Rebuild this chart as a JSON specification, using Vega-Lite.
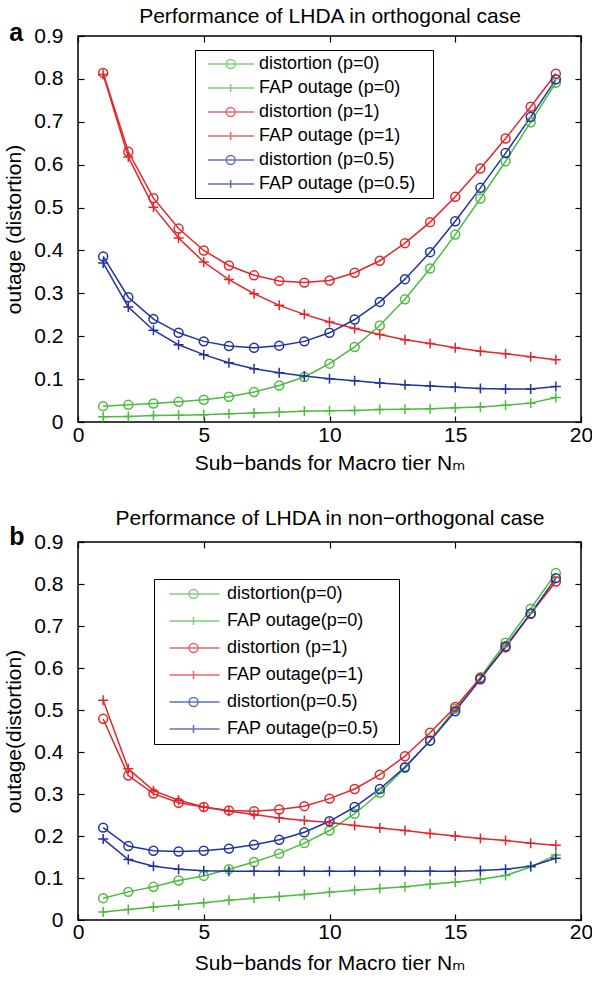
{
  "$schema": "https://vega.github.io/schema/vega-lite/v6.json",
  "padding": {"left": 2, "top": 4, "right": 0, "bottom": 0},
  "config": {
    "font": "Liberation Sans",
    "view": {"stroke": "black", "strokeWidth": 1.5},
    "axis": {
      "grid": false, "domain": false, "tickColor": "black", "tickSize": -6, "tickWidth": 1.2, "minExtent": 0, "labelFlush": false,
      "labelFont": "Liberation Sans", "labelFontSize": 21, "labelColor": "black",
      "titleFont": "Liberation Sans, DejaVu Sans", "titleFontSize": 21, "titleFontWeight": "normal", "titleColor": "black"
    },
    "legend": {
      "orient": "none", "strokeColor": "black", "fillColor": "white",
      "labelFont": "Liberation Sans", "labelFontSize": 18, "labelColor": "black", "labelLimit": 400,
      "symbolSize": 100, "symbolStrokeWidth": 1.5, "title": null
    },
    "title": {"font": "Liberation Sans", "fontSize": 25, "fontWeight": "bold", "color": "black", "anchor": "start", "frame": "bounds"}
  },
  "datasets": {
    "a": [
      {"series": "distortion (p=0)", "x": 1, "y": 0.037}, {"series": "distortion (p=0)", "x": 2, "y": 0.040}, {"series": "distortion (p=0)", "x": 3, "y": 0.043}, {"series": "distortion (p=0)", "x": 4, "y": 0.047}, {"series": "distortion (p=0)", "x": 5, "y": 0.052}, {"series": "distortion (p=0)", "x": 6, "y": 0.059}, {"series": "distortion (p=0)", "x": 7, "y": 0.070}, {"series": "distortion (p=0)", "x": 8, "y": 0.085}, {"series": "distortion (p=0)", "x": 9, "y": 0.105}, {"series": "distortion (p=0)", "x": 10, "y": 0.136}, {"series": "distortion (p=0)", "x": 11, "y": 0.175}, {"series": "distortion (p=0)", "x": 12, "y": 0.225}, {"series": "distortion (p=0)", "x": 13, "y": 0.286}, {"series": "distortion (p=0)", "x": 14, "y": 0.358}, {"series": "distortion (p=0)", "x": 15, "y": 0.437}, {"series": "distortion (p=0)", "x": 16, "y": 0.521}, {"series": "distortion (p=0)", "x": 17, "y": 0.608}, {"series": "distortion (p=0)", "x": 18, "y": 0.699}, {"series": "distortion (p=0)", "x": 19, "y": 0.791},
      {"series": "FAP outage (p=0)", "x": 1, "y": 0.012}, {"series": "FAP outage (p=0)", "x": 2, "y": 0.013}, {"series": "FAP outage (p=0)", "x": 3, "y": 0.015}, {"series": "FAP outage (p=0)", "x": 4, "y": 0.016}, {"series": "FAP outage (p=0)", "x": 5, "y": 0.017}, {"series": "FAP outage (p=0)", "x": 6, "y": 0.019}, {"series": "FAP outage (p=0)", "x": 7, "y": 0.021}, {"series": "FAP outage (p=0)", "x": 8, "y": 0.023}, {"series": "FAP outage (p=0)", "x": 9, "y": 0.025}, {"series": "FAP outage (p=0)", "x": 10, "y": 0.026}, {"series": "FAP outage (p=0)", "x": 11, "y": 0.027}, {"series": "FAP outage (p=0)", "x": 12, "y": 0.029}, {"series": "FAP outage (p=0)", "x": 13, "y": 0.030}, {"series": "FAP outage (p=0)", "x": 14, "y": 0.031}, {"series": "FAP outage (p=0)", "x": 15, "y": 0.033}, {"series": "FAP outage (p=0)", "x": 16, "y": 0.035}, {"series": "FAP outage (p=0)", "x": 17, "y": 0.039}, {"series": "FAP outage (p=0)", "x": 18, "y": 0.044}, {"series": "FAP outage (p=0)", "x": 19, "y": 0.057},
      {"series": "distortion (p=1)", "x": 1, "y": 0.814}, {"series": "distortion (p=1)", "x": 2, "y": 0.630}, {"series": "distortion (p=1)", "x": 3, "y": 0.522}, {"series": "distortion (p=1)", "x": 4, "y": 0.451}, {"series": "distortion (p=1)", "x": 5, "y": 0.400}, {"series": "distortion (p=1)", "x": 6, "y": 0.365}, {"series": "distortion (p=1)", "x": 7, "y": 0.342}, {"series": "distortion (p=1)", "x": 8, "y": 0.329}, {"series": "distortion (p=1)", "x": 9, "y": 0.325}, {"series": "distortion (p=1)", "x": 10, "y": 0.330}, {"series": "distortion (p=1)", "x": 11, "y": 0.348}, {"series": "distortion (p=1)", "x": 12, "y": 0.376}, {"series": "distortion (p=1)", "x": 13, "y": 0.417}, {"series": "distortion (p=1)", "x": 14, "y": 0.466}, {"series": "distortion (p=1)", "x": 15, "y": 0.525}, {"series": "distortion (p=1)", "x": 16, "y": 0.591}, {"series": "distortion (p=1)", "x": 17, "y": 0.661}, {"series": "distortion (p=1)", "x": 18, "y": 0.735}, {"series": "distortion (p=1)", "x": 19, "y": 0.812},
      {"series": "FAP outage (p=1)", "x": 1, "y": 0.810}, {"series": "FAP outage (p=1)", "x": 2, "y": 0.618}, {"series": "FAP outage (p=1)", "x": 3, "y": 0.501}, {"series": "FAP outage (p=1)", "x": 4, "y": 0.429}, {"series": "FAP outage (p=1)", "x": 5, "y": 0.373}, {"series": "FAP outage (p=1)", "x": 6, "y": 0.332}, {"series": "FAP outage (p=1)", "x": 7, "y": 0.299}, {"series": "FAP outage (p=1)", "x": 8, "y": 0.272}, {"series": "FAP outage (p=1)", "x": 9, "y": 0.251}, {"series": "FAP outage (p=1)", "x": 10, "y": 0.233}, {"series": "FAP outage (p=1)", "x": 11, "y": 0.218}, {"series": "FAP outage (p=1)", "x": 12, "y": 0.204}, {"series": "FAP outage (p=1)", "x": 13, "y": 0.192}, {"series": "FAP outage (p=1)", "x": 14, "y": 0.183}, {"series": "FAP outage (p=1)", "x": 15, "y": 0.173}, {"series": "FAP outage (p=1)", "x": 16, "y": 0.165}, {"series": "FAP outage (p=1)", "x": 17, "y": 0.159}, {"series": "FAP outage (p=1)", "x": 18, "y": 0.152}, {"series": "FAP outage (p=1)", "x": 19, "y": 0.145},
      {"series": "distortion (p=0.5)", "x": 1, "y": 0.386}, {"series": "distortion (p=0.5)", "x": 2, "y": 0.291}, {"series": "distortion (p=0.5)", "x": 3, "y": 0.240}, {"series": "distortion (p=0.5)", "x": 4, "y": 0.208}, {"series": "distortion (p=0.5)", "x": 5, "y": 0.188}, {"series": "distortion (p=0.5)", "x": 6, "y": 0.177}, {"series": "distortion (p=0.5)", "x": 7, "y": 0.173}, {"series": "distortion (p=0.5)", "x": 8, "y": 0.178}, {"series": "distortion (p=0.5)", "x": 9, "y": 0.188}, {"series": "distortion (p=0.5)", "x": 10, "y": 0.208}, {"series": "distortion (p=0.5)", "x": 11, "y": 0.239}, {"series": "distortion (p=0.5)", "x": 12, "y": 0.280}, {"series": "distortion (p=0.5)", "x": 13, "y": 0.333}, {"series": "distortion (p=0.5)", "x": 14, "y": 0.396}, {"series": "distortion (p=0.5)", "x": 15, "y": 0.468}, {"series": "distortion (p=0.5)", "x": 16, "y": 0.546}, {"series": "distortion (p=0.5)", "x": 17, "y": 0.627}, {"series": "distortion (p=0.5)", "x": 18, "y": 0.711}, {"series": "distortion (p=0.5)", "x": 19, "y": 0.799},
      {"series": "FAP outage (p=0.5)", "x": 1, "y": 0.371}, {"series": "FAP outage (p=0.5)", "x": 2, "y": 0.268}, {"series": "FAP outage (p=0.5)", "x": 3, "y": 0.214}, {"series": "FAP outage (p=0.5)", "x": 4, "y": 0.180}, {"series": "FAP outage (p=0.5)", "x": 5, "y": 0.157}, {"series": "FAP outage (p=0.5)", "x": 6, "y": 0.138}, {"series": "FAP outage (p=0.5)", "x": 7, "y": 0.124}, {"series": "FAP outage (p=0.5)", "x": 8, "y": 0.115}, {"series": "FAP outage (p=0.5)", "x": 9, "y": 0.107}, {"series": "FAP outage (p=0.5)", "x": 10, "y": 0.101}, {"series": "FAP outage (p=0.5)", "x": 11, "y": 0.096}, {"series": "FAP outage (p=0.5)", "x": 12, "y": 0.091}, {"series": "FAP outage (p=0.5)", "x": 13, "y": 0.087}, {"series": "FAP outage (p=0.5)", "x": 14, "y": 0.084}, {"series": "FAP outage (p=0.5)", "x": 15, "y": 0.081}, {"series": "FAP outage (p=0.5)", "x": 16, "y": 0.078}, {"series": "FAP outage (p=0.5)", "x": 17, "y": 0.077}, {"series": "FAP outage (p=0.5)", "x": 18, "y": 0.077}, {"series": "FAP outage (p=0.5)", "x": 19, "y": 0.083}
    ],
    "b": [
      {"series": "distortion(p=0)", "x": 1, "y": 0.052}, {"series": "distortion(p=0)", "x": 2, "y": 0.067}, {"series": "distortion(p=0)", "x": 3, "y": 0.079}, {"series": "distortion(p=0)", "x": 4, "y": 0.094}, {"series": "distortion(p=0)", "x": 5, "y": 0.105}, {"series": "distortion(p=0)", "x": 6, "y": 0.121}, {"series": "distortion(p=0)", "x": 7, "y": 0.138}, {"series": "distortion(p=0)", "x": 8, "y": 0.158}, {"series": "distortion(p=0)", "x": 9, "y": 0.183}, {"series": "distortion(p=0)", "x": 10, "y": 0.213}, {"series": "distortion(p=0)", "x": 11, "y": 0.253}, {"series": "distortion(p=0)", "x": 12, "y": 0.303}, {"series": "distortion(p=0)", "x": 13, "y": 0.362}, {"series": "distortion(p=0)", "x": 14, "y": 0.427}, {"series": "distortion(p=0)", "x": 15, "y": 0.503}, {"series": "distortion(p=0)", "x": 16, "y": 0.578}, {"series": "distortion(p=0)", "x": 17, "y": 0.660}, {"series": "distortion(p=0)", "x": 18, "y": 0.741}, {"series": "distortion(p=0)", "x": 19, "y": 0.826},
      {"series": "FAP outage(p=0)", "x": 1, "y": 0.019}, {"series": "FAP outage(p=0)", "x": 2, "y": 0.025}, {"series": "FAP outage(p=0)", "x": 3, "y": 0.031}, {"series": "FAP outage(p=0)", "x": 4, "y": 0.036}, {"series": "FAP outage(p=0)", "x": 5, "y": 0.041}, {"series": "FAP outage(p=0)", "x": 6, "y": 0.047}, {"series": "FAP outage(p=0)", "x": 7, "y": 0.052}, {"series": "FAP outage(p=0)", "x": 8, "y": 0.056}, {"series": "FAP outage(p=0)", "x": 9, "y": 0.061}, {"series": "FAP outage(p=0)", "x": 10, "y": 0.066}, {"series": "FAP outage(p=0)", "x": 11, "y": 0.071}, {"series": "FAP outage(p=0)", "x": 12, "y": 0.075}, {"series": "FAP outage(p=0)", "x": 13, "y": 0.079}, {"series": "FAP outage(p=0)", "x": 14, "y": 0.085}, {"series": "FAP outage(p=0)", "x": 15, "y": 0.090}, {"series": "FAP outage(p=0)", "x": 16, "y": 0.097}, {"series": "FAP outage(p=0)", "x": 17, "y": 0.106}, {"series": "FAP outage(p=0)", "x": 18, "y": 0.126}, {"series": "FAP outage(p=0)", "x": 19, "y": 0.155},
      {"series": "distortion (p=1)", "x": 1, "y": 0.479}, {"series": "distortion (p=1)", "x": 2, "y": 0.344}, {"series": "distortion (p=1)", "x": 3, "y": 0.301}, {"series": "distortion (p=1)", "x": 4, "y": 0.279}, {"series": "distortion (p=1)", "x": 5, "y": 0.269}, {"series": "distortion (p=1)", "x": 6, "y": 0.261}, {"series": "distortion (p=1)", "x": 7, "y": 0.259}, {"series": "distortion (p=1)", "x": 8, "y": 0.263}, {"series": "distortion (p=1)", "x": 9, "y": 0.271}, {"series": "distortion (p=1)", "x": 10, "y": 0.289}, {"series": "distortion (p=1)", "x": 11, "y": 0.312}, {"series": "distortion (p=1)", "x": 12, "y": 0.346}, {"series": "distortion (p=1)", "x": 13, "y": 0.390}, {"series": "distortion (p=1)", "x": 14, "y": 0.446}, {"series": "distortion (p=1)", "x": 15, "y": 0.507}, {"series": "distortion (p=1)", "x": 16, "y": 0.576}, {"series": "distortion (p=1)", "x": 17, "y": 0.649}, {"series": "distortion (p=1)", "x": 18, "y": 0.729}, {"series": "distortion (p=1)", "x": 19, "y": 0.806},
      {"series": "FAP outage(p=1)", "x": 1, "y": 0.523}, {"series": "FAP outage(p=1)", "x": 2, "y": 0.360}, {"series": "FAP outage(p=1)", "x": 3, "y": 0.308}, {"series": "FAP outage(p=1)", "x": 4, "y": 0.285}, {"series": "FAP outage(p=1)", "x": 5, "y": 0.269}, {"series": "FAP outage(p=1)", "x": 6, "y": 0.259}, {"series": "FAP outage(p=1)", "x": 7, "y": 0.251}, {"series": "FAP outage(p=1)", "x": 8, "y": 0.243}, {"series": "FAP outage(p=1)", "x": 9, "y": 0.237}, {"series": "FAP outage(p=1)", "x": 10, "y": 0.232}, {"series": "FAP outage(p=1)", "x": 11, "y": 0.225}, {"series": "FAP outage(p=1)", "x": 12, "y": 0.219}, {"series": "FAP outage(p=1)", "x": 13, "y": 0.213}, {"series": "FAP outage(p=1)", "x": 14, "y": 0.206}, {"series": "FAP outage(p=1)", "x": 15, "y": 0.200}, {"series": "FAP outage(p=1)", "x": 16, "y": 0.194}, {"series": "FAP outage(p=1)", "x": 17, "y": 0.189}, {"series": "FAP outage(p=1)", "x": 18, "y": 0.183}, {"series": "FAP outage(p=1)", "x": 19, "y": 0.178},
      {"series": "distortion(p=0.5)", "x": 1, "y": 0.220}, {"series": "distortion(p=0.5)", "x": 2, "y": 0.176}, {"series": "distortion(p=0.5)", "x": 3, "y": 0.165}, {"series": "distortion(p=0.5)", "x": 4, "y": 0.163}, {"series": "distortion(p=0.5)", "x": 5, "y": 0.165}, {"series": "distortion(p=0.5)", "x": 6, "y": 0.170}, {"series": "distortion(p=0.5)", "x": 7, "y": 0.179}, {"series": "distortion(p=0.5)", "x": 8, "y": 0.191}, {"series": "distortion(p=0.5)", "x": 9, "y": 0.209}, {"series": "distortion(p=0.5)", "x": 10, "y": 0.235}, {"series": "distortion(p=0.5)", "x": 11, "y": 0.269}, {"series": "distortion(p=0.5)", "x": 12, "y": 0.312}, {"series": "distortion(p=0.5)", "x": 13, "y": 0.364}, {"series": "distortion(p=0.5)", "x": 14, "y": 0.427}, {"series": "distortion(p=0.5)", "x": 15, "y": 0.497}, {"series": "distortion(p=0.5)", "x": 16, "y": 0.573}, {"series": "distortion(p=0.5)", "x": 17, "y": 0.652}, {"series": "distortion(p=0.5)", "x": 18, "y": 0.730}, {"series": "distortion(p=0.5)", "x": 19, "y": 0.814},
      {"series": "FAP outage(p=0.5)", "x": 1, "y": 0.193}, {"series": "FAP outage(p=0.5)", "x": 2, "y": 0.144}, {"series": "FAP outage(p=0.5)", "x": 3, "y": 0.128}, {"series": "FAP outage(p=0.5)", "x": 4, "y": 0.121}, {"series": "FAP outage(p=0.5)", "x": 5, "y": 0.117}, {"series": "FAP outage(p=0.5)", "x": 6, "y": 0.116}, {"series": "FAP outage(p=0.5)", "x": 7, "y": 0.116}, {"series": "FAP outage(p=0.5)", "x": 8, "y": 0.116}, {"series": "FAP outage(p=0.5)", "x": 9, "y": 0.116}, {"series": "FAP outage(p=0.5)", "x": 10, "y": 0.116}, {"series": "FAP outage(p=0.5)", "x": 11, "y": 0.116}, {"series": "FAP outage(p=0.5)", "x": 12, "y": 0.116}, {"series": "FAP outage(p=0.5)", "x": 13, "y": 0.116}, {"series": "FAP outage(p=0.5)", "x": 14, "y": 0.116}, {"series": "FAP outage(p=0.5)", "x": 15, "y": 0.116}, {"series": "FAP outage(p=0.5)", "x": 16, "y": 0.118}, {"series": "FAP outage(p=0.5)", "x": 17, "y": 0.121}, {"series": "FAP outage(p=0.5)", "x": 18, "y": 0.128}, {"series": "FAP outage(p=0.5)", "x": 19, "y": 0.147}
    ]
  },
  "vconcat": [
    {
      "width": 503, "height": 386,
      "title": {"text": "a", "offset": -41, "dx": 6},
      "data": {"name": "a"},
      "layer": [
        {
          "transform": [{"filter": "datum.x > 100"}],
          "mark": {"type": "point", "filled": false, "strokeWidth": 1.5},
          "encoding": {
            "x": {"field": "x", "type": "quantitative", "scale": {"domain": [0, 20], "nice": false}, "axis": {"orient": "top", "labels": false, "title": "Performance of LHDA in orthogonal case", "titlePadding": 9, "values": [0, 5, 10, 15, 20]}},
            "y": {"field": "y", "type": "quantitative", "scale": {"domain": [0, 0.9], "nice": false}, "axis": {"orient": "right", "labels": false, "title": null, "values": [0, 0.1, 0.2, 0.3, 0.4, 0.5, 0.6, 0.7, 0.8, 0.9]}},
            "color": {"field": "series", "type": "nominal", "scale": {"domain": ["distortion (p=0)", "FAP outage (p=0)", "distortion (p=1)", "FAP outage (p=1)", "distortion (p=0.5)", "FAP outage (p=0.5)"], "range": ["#4cbb3f", "#4cbb3f", "#e3262a", "#e3262a", "#2233a0", "#2233a0"]}, "legend": {"legendX": 117, "legendY": 14, "padding": 5, "labelOffset": 41, "rowPadding": 6}},
            "shape": {"field": "series", "type": "nominal", "scale": {"domain": ["distortion (p=0)", "FAP outage (p=0)", "distortion (p=1)", "FAP outage (p=1)", "distortion (p=0.5)", "FAP outage (p=0.5)"], "range": ["M-0.2,0H9M3.44,0A0.9,0.9,0,1,1,5.24,0A0.9,0.9,0,1,1,3.44,0M43.2,0", "M-0.2,0H9M4.34,-0.8V0.8M43.2,0", "M-0.2,0H9M3.44,0A0.9,0.9,0,1,1,5.24,0A0.9,0.9,0,1,1,3.44,0M43.2,0", "M-0.2,0H9M4.34,-0.8V0.8M43.2,0", "M-0.2,0H9M3.44,0A0.9,0.9,0,1,1,5.24,0A0.9,0.9,0,1,1,3.44,0M43.2,0", "M-0.2,0H9M4.34,-0.8V0.8M43.2,0"]}, "legend": {"legendX": 117, "legendY": 14, "padding": 5, "labelOffset": 41, "rowPadding": 6}}
          }
        },
        {
          "mark": {"type": "line", "strokeWidth": 1.5},
          "encoding": {
            "x": {"field": "x", "type": "quantitative", "axis": {"orient": "bottom", "values": [0, 5, 10, 15, 20], "title": "Sub−bands for Macro tier Nₘ", "labelPadding": 8.5, "titlePadding": 7}},
            "y": {"field": "y", "type": "quantitative", "axis": {"orient": "left", "values": [0, 0.1, 0.2, 0.3, 0.4, 0.5, 0.6, 0.7, 0.8, 0.9], "format": ".1~f", "title": "outage (distortion)", "labelPadding": 21, "titlePadding": 9.5}},
            "color": {"field": "series", "type": "nominal", "legend": null}
          }
        },
        {
          "transform": [{"filter": "indexof(datum.series, 'distortion') >= 0"}],
          "mark": {"type": "point", "shape": "circle", "filled": false, "size": 80, "strokeWidth": 1.5, "opacity": 1},
          "encoding": {
            "x": {"field": "x", "type": "quantitative", "axis": null},
            "y": {"field": "y", "type": "quantitative", "axis": null},
            "color": {"field": "series", "type": "nominal", "legend": null}
          }
        },
        {
          "transform": [{"filter": "indexof(datum.series, 'FAP') >= 0"}],
          "mark": {"type": "point", "shape": "M-1,0H1M0,-1V1", "filled": false, "size": 100, "strokeWidth": 1.5, "opacity": 1},
          "encoding": {
            "x": {"field": "x", "type": "quantitative", "axis": null},
            "y": {"field": "y", "type": "quantitative", "axis": null},
            "color": {"field": "series", "type": "nominal", "legend": null}
          }
        }
      ],
      "resolve": {"axis": {"x": "independent", "y": "independent"}}
    },
    {
      "width": 503, "height": 378,
      "title": {"text": "b", "offset": -43, "dx": 6},
      "data": {"name": "b"},
      "layer": [
        {
          "transform": [{"filter": "datum.x > 100"}],
          "mark": {"type": "point", "filled": false, "strokeWidth": 1.5},
          "encoding": {
            "x": {"field": "x", "type": "quantitative", "scale": {"domain": [0, 20], "nice": false}, "axis": {"orient": "top", "labels": false, "title": "Performance of LHDA in non−orthogonal case", "titlePadding": 13, "values": [0, 5, 10, 15, 20]}},
            "y": {"field": "y", "type": "quantitative", "scale": {"domain": [0, 0.9], "nice": false}, "axis": {"orient": "right", "labels": false, "title": null, "values": [0, 0.1, 0.2, 0.3, 0.4, 0.5, 0.6, 0.7, 0.8, 0.9]}},
            "color": {"field": "series", "type": "nominal", "scale": {"domain": ["distortion(p=0)", "FAP outage(p=0)", "distortion (p=1)", "FAP outage(p=1)", "distortion(p=0.5)", "FAP outage(p=0.5)"], "range": ["#4cbb3f", "#4cbb3f", "#e3262a", "#e3262a", "#2233a0", "#2233a0"]}, "legend": {"legendX": 76, "legendY": 37, "padding": 6, "labelOffset": 49, "rowPadding": 9}},
            "shape": {"field": "series", "type": "nominal", "scale": {"domain": ["distortion(p=0)", "FAP outage(p=0)", "distortion (p=1)", "FAP outage(p=1)", "distortion(p=0.5)", "FAP outage(p=0.5)"], "range": ["M0.1,0H10.1M4,0A0.9,0.9,0,1,1,5.8,0A0.9,0.9,0,1,1,4,0M44.2,0", "M0.1,0H10.1M4.9,-0.8V0.8M44.2,0", "M0.1,0H10.1M4,0A0.9,0.9,0,1,1,5.8,0A0.9,0.9,0,1,1,4,0M44.2,0", "M0.1,0H10.1M4.9,-0.8V0.8M44.2,0", "M0.1,0H10.1M4,0A0.9,0.9,0,1,1,5.8,0A0.9,0.9,0,1,1,4,0M44.2,0", "M0.1,0H10.1M4.9,-0.8V0.8M44.2,0"]}, "legend": {"legendX": 76, "legendY": 37, "padding": 6, "labelOffset": 49, "rowPadding": 9}}
          }
        },
        {
          "mark": {"type": "line", "strokeWidth": 1.5},
          "encoding": {
            "x": {"field": "x", "type": "quantitative", "axis": {"orient": "bottom", "values": [0, 5, 10, 15, 20], "title": "Sub−bands for Macro tier Nₘ", "labelPadding": 7, "titlePadding": 10}},
            "y": {"field": "y", "type": "quantitative", "axis": {"orient": "left", "values": [0, 0.1, 0.2, 0.3, 0.4, 0.5, 0.6, 0.7, 0.8, 0.9], "format": ".1~f", "title": "outage(distortion)", "labelPadding": 21, "titlePadding": 9.5}},
            "color": {"field": "series", "type": "nominal", "legend": null}
          }
        },
        {
          "transform": [{"filter": "indexof(datum.series, 'distortion') >= 0"}],
          "mark": {"type": "point", "shape": "circle", "filled": false, "size": 80, "strokeWidth": 1.5, "opacity": 1},
          "encoding": {
            "x": {"field": "x", "type": "quantitative", "axis": null},
            "y": {"field": "y", "type": "quantitative", "axis": null},
            "color": {"field": "series", "type": "nominal", "legend": null}
          }
        },
        {
          "transform": [{"filter": "indexof(datum.series, 'FAP') >= 0"}],
          "mark": {"type": "point", "shape": "M-1,0H1M0,-1V1", "filled": false, "size": 100, "strokeWidth": 1.5, "opacity": 1},
          "encoding": {
            "x": {"field": "x", "type": "quantitative", "axis": null},
            "y": {"field": "y", "type": "quantitative", "axis": null},
            "color": {"field": "series", "type": "nominal", "legend": null}
          }
        }
      ],
      "resolve": {"axis": {"x": "independent", "y": "independent"}}
    }
  ],
  "spacing": 31,
  "resolve": {"scale": {"color": "independent", "shape": "independent", "x": "independent", "y": "independent"}}
}
